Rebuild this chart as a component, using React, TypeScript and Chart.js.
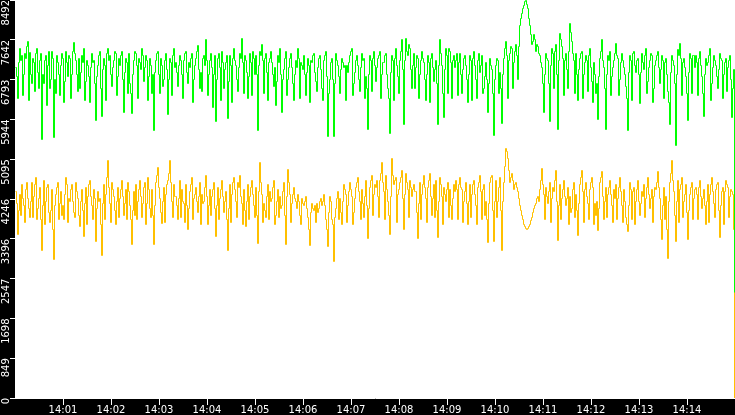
import React, { useEffect, useRef } from 'react';
import Chart from 'chart.js/auto';

// one sample every 1.25 s, starting 14:00:00
const SAMPLE_SECONDS = 1.25;
const X_MAX_SECONDS = 900;

const xTickSeconds = [60, 120, 180, 240, 300, 360, 420, 480, 540, 600, 660, 720, 780, 840];
const xTickLabels = ['14:01', '14:02', '14:03', '14:04', '14:05', '14:06', '14:07', '14:08', '14:09', '14:10', '14:11', '14:12', '14:13', '14:14'];

const yTickValues = [0, 849, 1698, 2547, 3396, 4246, 5095, 5944, 6793, 7642, 8492];
const yTickLabels = ['0', '849', '1698', '2547', '3396', '4246', '5095', '5944', '6793', '7642', '8492'];
const Y_MAX = 8492;

const greenValues = [
  7050, 6850, 6400, 7150, 7450, 7200, 7300, 6450, 6900, 7350, 7250, 7500, 7600, 6350, 7380, 6900, 6700, 7250, 7150, 6550, 7350, 7450, 6950, 6600, 7200, 7350, 5520, 6900, 6700, 7200, 7300, 6250, 7100, 7400, 6600, 6800, 7400, 7250, 5560, 6800,
  6500, 7300, 7150, 6900, 6450, 7100, 7350, 7250, 6300, 6750, 7400, 7150, 6850, 7300, 7250, 6400, 6900, 7400, 7580, 7350, 7200, 6900, 6550, 7250, 6600, 6950, 7300, 7150, 7450, 6350, 6750, 7200, 7100, 6850, 6300, 7050, 7350, 7150, 7200, 6700,
  5930, 6850, 7100, 7300, 7400, 6600, 6000, 7000, 7250, 7100, 6350, 7350, 7450, 7200, 7300, 6900, 6650, 7050, 7200, 7400, 7350, 6450, 6850, 7250, 7100, 7300, 7400, 6800, 6100, 6950, 7250, 7150, 6500, 7350, 6700, 6500, 6080, 6900, 7200, 7400,
  7350, 7100, 6400, 7250, 7150, 7000, 7450, 7300, 6750, 7050, 7300, 7200, 6350, 6850, 7250, 7100, 6500, 6900, 5710, 6950, 7200, 7350, 7400, 6900, 6500, 7250, 7100, 6650, 6800, 7200, 7350, 7000, 6050, 6800, 7250, 7150, 6450, 7300, 7450, 7050,
  7150, 6950, 6650, 7100, 7300, 7200, 6900, 6400, 7200, 7350, 7400, 6950, 6700, 7150, 7050, 7250, 7350, 6300, 6800, 7100, 7250, 7400, 7530, 7000, 6600, 6950, 6550, 7250, 7300, 7100, 7640, 7200, 6450, 6900, 7200, 7350, 7050, 6200, 6900, 7300,
  5900, 6800, 7250, 7350, 7050, 6350, 7400, 7150, 6600, 7000, 7150, 7300, 5960, 6750, 7300, 7100, 6300, 7250, 7450, 7200, 7100, 6800, 6550, 7050, 7350, 7250, 7660, 7150, 6500, 7300, 7200, 6950, 6400, 6850, 7350, 7150, 6450, 7400, 7250, 6900,
  7300, 6900, 5700, 7100, 7400, 7300, 7550, 7200, 6500, 7250, 7350, 6950, 6350, 7150, 7250, 7400, 7150, 6900, 6650, 7050, 6250, 6750, 7300, 7150, 7450, 6900, 6100, 6800, 7000, 7250, 7400, 6450, 6800, 7050, 7250, 7350, 7050, 6700, 6350, 6900,
  7200, 7050, 7450, 7250, 6400, 7150, 7100, 7000, 7300, 6900, 6450, 6950, 7250, 7100, 6300, 7200, 7150, 7300, 7350, 6950, 6750, 6550, 7050, 7250, 7300, 7000, 6600, 6350, 7200, 7300, 7400, 6850, 5570, 6500, 6800, 7150, 7250, 6800, 5590, 6700,
  7350, 7200, 7100, 6850, 6500, 7000, 7250, 7150, 7050, 7100, 6350, 7100, 6950, 7150, 7300, 7400, 7450, 6450, 6700, 6950, 7200, 7300, 7100, 6800, 6550, 7050, 7350, 7200, 7250, 6400, 6850, 6600, 5730, 6900, 7300, 7200, 6550, 7250, 7400, 7100,
  6750, 7050, 7250, 7300, 7400, 6400, 6900, 7150, 7150, 7300, 7350, 6900, 6600, 6400, 5650, 6950, 7300, 7200, 6350, 7250, 7450, 7100, 6850, 6500, 7200, 7400, 7640, 7000, 5840, 7200, 7660, 7400, 7300, 7550, 7450, 7000, 6600, 7100, 7350, 6600,
  7050, 7300, 7250, 6400, 6900, 7200, 7400, 7250, 7150, 6800, 6350, 6900, 7300, 7150, 6300, 7250, 7350, 7050, 6750, 7000, 7200, 6700, 5840, 7100, 7640, 7350, 7100, 6500, 5990, 7000, 7450, 7300, 6500, 7450, 7400, 7150, 6400, 7200, 7300, 7050,
  7200, 7350, 6450, 7150, 7350, 6900, 6500, 7000, 7250, 7300, 7100, 6800, 6300, 6900, 7300, 7200, 6350, 7250, 7400, 7100, 6800, 6400, 7200, 7350, 6950, 7100, 7300, 6500, 6600, 6850, 7150, 6800, 6100, 6700, 7250, 7100, 7000, 6500, 5600, 6800,
  7100, 7250, 7200, 6500, 6950, 6600, 5850, 6900, 7250, 7450, 7600, 7300, 6400, 7200, 7350, 7500, 7450, 6600, 7150, 7400, 7550, 7300, 6800, 7500, 7950, 8100, 8200, 8300, 8380, 8450, 8492, 8400, 8300, 8100, 7950, 7750, 7550, 7600, 7750, 7650,
  7400, 7550, 7500, 7350, 7300, 7150, 7050, 6700, 6100, 6900, 7350, 7250, 7200, 6700, 5900, 7100, 7450, 7350, 6600, 7400, 7550, 6900, 5730, 7200, 7780, 7650, 7500, 7250, 6450, 7200, 7350, 7000, 6600, 7400, 7980, 7800, 7600, 7350, 7200, 6500,
  7350, 6900, 6350, 7000, 7250, 7350, 7400, 6400, 6900, 7150, 7300, 7200, 6550, 7300, 7450, 7050, 6750, 6300, 7150, 6900, 6500, 6700, 5950, 6850, 7250, 7400, 7640, 7200, 7050, 6600, 5720, 6900, 7300, 7200, 7400, 6450, 6850, 7050, 7200, 7350,
  7570, 7300, 7250, 6450, 6800, 7150, 7350, 7200, 7050, 6900, 6650, 6400, 5700, 6950, 7300, 7200, 6350, 7350, 7400, 7100, 6950, 7200, 7250, 6900, 6280, 6950, 7350, 7150, 7000, 7300, 7450, 6500, 6750, 7050, 7200, 7350, 7300, 6300, 6600, 7100,
  7200, 7300, 7400, 7050, 6700, 7000, 7300, 7200, 6400, 7150, 7250, 6900, 6550, 6300, 5830, 6950, 7300, 7200, 7100, 6700, 5390, 6900, 7440, 7300, 7570, 7250, 6450, 7150, 7250, 7050, 6850, 6500, 5920, 6950, 7350, 7250, 6500, 7300, 7300, 7050,
  7300, 7150, 6450, 7250, 7400, 7100, 6850, 6500, 6010, 6900, 7250, 7100, 7150, 7300, 7450, 6350, 6700, 7050, 7300, 7200, 7100, 6850, 6600, 7000, 7350, 7250, 7200, 6400, 6900, 7150, 7250, 6550, 7050, 7200, 7300, 6800, 5990, 6600, 7000, 2250,
];

const yellowValues = [
  4400, 4150, 3490, 4000, 4350, 3900, 4550, 4250, 4100, 3750, 4450, 4600, 4250, 4050, 3850, 4200, 4600, 3850, 4300, 4550, 4700, 3800, 4050, 4250, 4500, 3800, 3140, 4100, 4650, 3700, 4200, 4500, 4550, 3950, 3750, 4000, 4450, 3600, 2950, 4100,
  4350, 4500, 4600, 3800, 4150, 4400, 3900, 4100, 3800, 4350, 4700, 4550, 3750, 4250, 4200, 4450, 4550, 4200, 3950, 3850, 4600, 4400, 4250, 3900, 3650, 4200, 4450, 4000, 3450, 4150, 4500, 3700, 4300, 4550, 4650, 4300, 4100, 3800, 4450, 4250,
  3340, 4050, 4400, 4200, 4250, 3700, 3050, 4150, 4550, 3800, 4350, 4700, 5070, 4500, 4150, 3750, 4600, 4450, 4300, 4000, 3700, 4200, 4500, 3850, 4250, 4450, 4650, 4300, 3900, 4150, 4450, 3800, 4600, 4400, 4100, 3800, 3270, 4000, 4400, 3900,
  4550, 3800, 4200, 4450, 4650, 4300, 3850, 4150, 4500, 4600, 3700, 4150, 4700, 4450, 4050, 3850, 4450, 3900, 3270, 4100, 4600, 4750, 4920, 4500, 4250, 3950, 3720, 4200, 4500, 3750, 4350, 4550, 4650, 4800, 5070, 4600, 4200, 3850, 4550, 4300,
  4300, 4100, 3800, 4250, 4650, 3850, 4450, 4200, 4150, 3750, 4550, 4100, 3600, 4050, 4400, 4550, 4700, 3800, 4250, 4350, 4500, 4200, 3950, 4300, 4600, 3700, 4350, 4150, 4200, 4500, 4750, 4300, 3700, 4100, 4450, 3900, 4300, 4450, 4600, 4050,
  3440, 4100, 4500, 3800, 4250, 4450, 4650, 4300, 3950, 4200, 4400, 3800, 3140, 4050, 4550, 3750, 4350, 4600, 4700, 4450, 4200, 3850, 4600, 4500, 4750, 4300, 4150, 3700, 4450, 4000, 3650, 4200, 4550, 3800, 4300, 4500, 4650, 4350, 4100, 3850,
  4500, 3900, 3290, 4400, 5030, 4600, 4350, 3750, 4150, 4000, 3850, 4300, 4550, 3800, 4400, 4200, 4250, 4500, 4650, 3700, 3900, 4200, 4450, 3850, 4300, 4050, 4100, 4400, 4600, 3900, 3270, 4300, 4880, 4600, 4350, 3750, 4150, 4350, 4500, 4250,
  4200, 4050, 4350, 4200, 3900, 3700, 4250, 4150, 4100, 4200, 4300, 4050, 3850, 3600, 3250, 3950, 4150, 4050, 4000, 4100, 3750, 4150, 3950, 4050, 4200, 4250, 4100, 4200, 4350, 4100, 3800, 3600, 3230, 3950, 4300, 4200, 3800, 3700, 2910, 3850,
  4050, 4250, 4400, 3800, 4250, 3950, 3700, 4200, 4550, 4450, 4350, 3750, 4100, 4400, 4600, 4450, 4300, 3700, 3950, 4250, 4500, 4600, 4700, 4400, 4200, 3800, 4450, 4150, 3850, 4300, 4650, 4100, 3400, 4050, 4500, 4650, 4750, 3900, 4350, 4550,
  4500, 4650, 4300, 3850, 4650, 4800, 5030, 4600, 4400, 3800, 4750, 4450, 4200, 3900, 3490, 4300, 5110, 4750, 4550, 4650, 4700, 3750, 4350, 4450, 4600, 4700, 4850, 4250, 3600, 4350, 4800, 4600, 4450, 3850, 4650, 4500, 4300, 4450, 4550, 4400,
  4400, 3950, 3400, 4150, 4600, 3800, 4350, 4550, 4750, 4500, 4250, 3750, 4500, 4650, 4800, 4300, 3900, 4250, 4550, 3850, 4650, 4000, 3430, 4200, 4700, 4550, 4300, 3700, 4500, 4350, 4200, 4450, 4600, 3850, 4450, 4100, 3800, 4250, 4550, 4400,
  4650, 4450, 3800, 4550, 4700, 4500, 4450, 3750, 4200, 4400, 4600, 4150, 3700, 4200, 4550, 3850, 4350, 4550, 4650, 4350, 4100, 3700, 4500, 4600, 4750, 4400, 3800, 4450, 4550, 3900, 4200, 3800, 3320, 4150, 4600, 4700, 4750, 4000, 3340, 4200,
  4650, 3850, 4200, 4500, 4700, 4000, 3140, 4200, 4600, 4950, 5330, 5250, 5100, 4850, 4600, 4700, 4800, 4650, 4450, 4550, 4600, 4500, 4400, 4250, 4100, 4000, 3900, 3800, 3700, 3650, 3620, 3600, 3610, 3650, 3700, 3780, 3850, 3950, 4050, 4100,
  4150, 4250, 4300, 4200, 4450, 4650, 4900, 4550, 4350, 3800, 4500, 4300, 4150, 4400, 4600, 3750, 4250, 4500, 4400, 4650, 4850, 4200, 3360, 4100, 4550, 3800, 4250, 4450, 4650, 4300, 4100, 4250, 4500, 3700, 4300, 3950, 4050, 4450, 4600, 3850,
  4350, 4000, 3460, 4150, 4550, 4700, 4850, 4400, 3750, 4450, 4600, 4300, 4150, 3800, 4450, 4600, 4700, 4500, 3700, 4150, 3900, 4200, 3570, 4050, 4600, 4700, 4830, 4300, 3800, 4200, 4500, 3850, 4350, 4500, 4650, 4350, 4100, 3750, 4450, 4250,
  4550, 3800, 4250, 4500, 4700, 4400, 4100, 3750, 4450, 4200, 3850, 3700, 3550, 4100, 4600, 4450, 3800, 4400, 4500, 3700, 4200, 4450, 4650, 4200, 3900, 4150, 4400, 4300, 4550, 3850, 4250, 4500, 4700, 4350, 4050, 4250, 4450, 3750, 4300, 4500,
  4450, 4600, 4830, 4500, 4250, 3800, 3380, 4100, 4500, 3800, 4300, 3600, 2970, 4200, 4600, 4800, 5070, 4650, 4400, 3900, 3340, 4200, 4650, 3750, 4450, 4550, 4700, 3850, 4200, 4350, 4550, 3950, 3380, 4000, 4350, 4500, 4600, 3800, 4250, 4450,
  4500, 4350, 3800, 4500, 4650, 4300, 4050, 4250, 4450, 4100, 3700, 4200, 4550, 3750, 4350, 4550, 4700, 4400, 4150, 3850, 4450, 4550, 4600, 4000, 3420, 4100, 4400, 4500, 3700, 4400, 4650, 4550, 4500, 3850, 4300, 4450, 4400, 4350, 3600, 0,
];

const toPoints = (values: number[]) =>
  values.map((v, i) => ({ x: i * SAMPLE_SECONDS, y: v }));

const plotBackground = {
  id: 'plotBackground',
  beforeDraw(chart: any) {
    const { ctx, chartArea } = chart;
    if (!chartArea) return;
    ctx.save();
    ctx.fillStyle = '#ffffff';
    ctx.fillRect(chartArea.left, chartArea.top, chartArea.right - chartArea.left, chartArea.bottom - chartArea.top);
    ctx.restore();
  }
};

// snap line vertices to pixel centres so the 1px traces stay crisp
const pixelSnap = {
  id: 'pixelSnap',
  beforeDatasetsDraw(chart: any) {
    chart.getSortedVisibleDatasetMetas().forEach((meta: any) => {
      meta.data.forEach((pt: any) => {
        pt.x = Math.floor(pt.x + 1e-6) + 0.5;
        pt.y = Math.floor(pt.y + 1e-6) + 0.5;
      });
    });
  }
};

const App: React.FC = () => {
  const canvasRef = useRef<HTMLCanvasElement>(null);
  const chartRef = useRef<Chart | null>(null);

  useEffect(() => {
    if (!canvasRef.current) return;

    const tickFont = { family: 'DejaVu Sans', size: 10, lineHeight: 1 };

    chartRef.current = new Chart(canvasRef.current, {
      type: 'line',
      data: {
        datasets: [
          {
            label: 'green',
            data: toPoints(greenValues) as any,
            borderColor: '#00ff00',
            borderWidth: 1,
            pointRadius: 0,
            stepped: true,
            fill: false
          },
          {
            label: 'yellow',
            data: toPoints(yellowValues) as any,
            borderColor: '#ffc000',
            borderWidth: 1,
            pointRadius: 0,
            stepped: true,
            fill: false
          }
        ]
      },
      options: {
        responsive: true,
        maintainAspectRatio: false,
        animation: false,
        layout: { padding: 0 },
        plugins: {
          legend: { display: false },
          tooltip: { enabled: false }
        },
        scales: {
          x: {
            type: 'linear',
            min: 0,
            max: X_MAX_SECONDS,
            grid: { drawOnChartArea: false, drawTicks: true, tickLength: 7, color: '#ffffff' },
            border: { display: true, color: '#ffffff' },
            afterBuildTicks: (scale: any) => {
              scale.ticks = xTickSeconds.map((v) => ({ value: v }));
            },
            afterFit: (scale: any) => {
              scale.height = 17;
              scale.paddingLeft = 0;
              scale.paddingRight = 0;
            },
            ticks: {
              color: '#ffffff',
              font: tickFont,
              padding: 0,
              maxRotation: 0,
              autoSkip: false,
              callback: (value: any) => {
                const k = xTickSeconds.indexOf(Number(value));
                return k >= 0 ? xTickLabels[k] : '';
              }
            }
          },
          y: {
            type: 'linear',
            min: 0,
            max: Y_MAX,
            grid: { drawOnChartArea: false, drawTicks: true, tickLength: 5, color: '#ffffff' },
            border: { display: true, color: '#ffffff' },
            afterBuildTicks: (scale: any) => {
              scale.ticks = yTickValues.map((v) => ({ value: v }));
            },
            afterFit: (scale: any) => {
              scale.width = 15;
              scale.paddingTop = 0;
              scale.paddingBottom = 0;
            },
            ticks: {
              color: '#ffffff',
              font: tickFont,
              padding: 4,
              minRotation: 90,
              maxRotation: 90,
              autoSkip: false,
              callback: (value: any) => {
                const k = yTickValues.indexOf(Number(value));
                return k >= 0 ? yTickLabels[k] : '';
              }
            }
          }
        }
      },
      plugins: [plotBackground, pixelSnap]
    });

    return () => {
      chartRef.current?.destroy();
      chartRef.current = null;
    };
  }, []);

  return (
    <div style={{ position: 'fixed', left: 0, top: 0, width: 735, height: 415, background: '#000000' }}>
      <canvas ref={canvasRef}></canvas>
    </div>
  );
};

export default App;
